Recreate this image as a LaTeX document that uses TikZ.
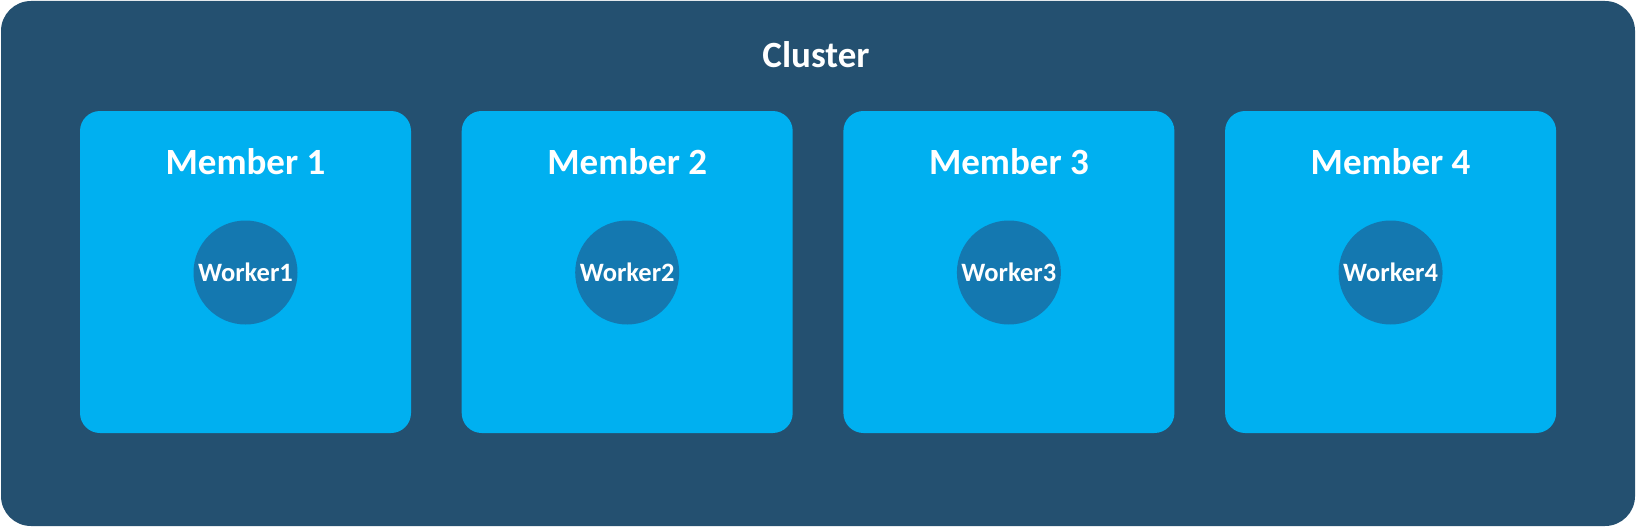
\documentclass[tikz,border=0pt]{standalone}
\usepackage{fontspec}
\setmainfont{Carlito}
\definecolor{clusterblue}{HTML}{245070}
\definecolor{memberblue}{HTML}{00B0F0}
\definecolor{workerblue}{HTML}{1478B0}
\tikzset{
	clusterbox/.style={fill=clusterblue, draw=none, rounded corners=30pt, inner sep=0pt, minimum width=1634pt, minimum height=525pt},
	memberbox/.style={fill=memberblue, draw=none, rounded corners=20pt, inner sep=0pt, minimum width=331pt, minimum height=322pt},
	workercircle/.style={circle, fill=workerblue, draw=none, inner sep=0pt, minimum size=104pt, text=white, font=\bfseries\fontsize{26.5}{30}\selectfont},
	titletext/.style={text=white, anchor=base, inner sep=0pt, font=\bfseries\fontsize{37}{42}\selectfont}
}
\begin{document}
\begin{tikzpicture}[x=1pt,y=-1pt]
				\useasboundingbox (0,0) rectangle (1637,527);
				\node[clusterbox] (cluster) at (818,263.5) {};
				\node[titletext] (clustertitle) at (816,67) {Cluster};
				\foreach \i in {1,...,4}{
					\node[memberbox] (member\i) at ({245.5+381.7*(\i-1)},272) {};
					\node[titletext] (membertitle\i) at ({245.5+381.7*(\i-1)},174.5) {Member \i};
					\node[workercircle] (worker\i) at ({245.5+381.7*(\i-1)},272.5) {Worker\i};
				}
				\end{tikzpicture}
\end{document}
